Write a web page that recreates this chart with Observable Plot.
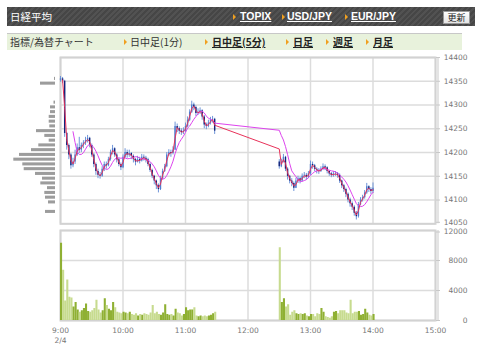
<!DOCTYPE html>
<html><head><meta charset="utf-8">
<script src="https://cdn.jsdelivr.net/npm/d3@7"></script>
<script src="https://cdn.jsdelivr.net/npm/@observablehq/plot@0.6"></script>
<style>
body{margin:0;background:#fff;width:480px;height:355px;overflow:hidden;position:relative;font-family:"Noto Sans CJK JP",sans-serif;}
#hdr{position:absolute;left:7px;top:7px;width:468px;height:19px;background:repeating-linear-gradient(135deg,#464646 0 2px,#525252 2px 4px);}
#hdr .ttl{position:absolute;left:3px;top:0;line-height:19px;font-size:10.5px;color:#fff;}
#hdr a{position:absolute;top:0;line-height:19px;font-family:"Liberation Sans",Arial,sans-serif;font-weight:bold;font-size:10.5px;color:#fff;text-decoration:underline;}
.tri{position:absolute;width:0;height:0;border-left:3px solid #f0a020;border-top:3px solid transparent;border-bottom:3px solid transparent;}
#hdr .tri{top:7px;}
#btn{position:absolute;left:436px;top:4px;width:25px;height:11px;background:linear-gradient(#fff,#e4e4e4);border:1px solid #999;font-size:9px;line-height:11px;text-align:center;color:#222;}
#nav{position:absolute;left:7px;top:33px;width:455px;height:16px;background:#e8f2dc;border-top:1px solid #c8c8c8;}
#nav span.t{position:absolute;top:0;line-height:16px;font-size:10px;color:#333;white-space:nowrap;}
#nav span.b{font-weight:bold;text-decoration:underline;color:#222;}
#nav .tri{top:5px;}
.pl{position:absolute;}
</style>
</head><body>
<div id="hdr">
  <span class="ttl">日経平均</span>
  <span class="tri" style="left:226px"></span><a style="left:233px">TOPIX</a>
  <span class="tri" style="left:275px"></span><a style="left:280px">USD/JPY</a>
  <span class="tri" style="left:338px"></span><a style="left:344px">EUR/JPY</a>
  <div id="btn">更新</div>
</div>
<div id="nav">
  <span class="t" style="left:3px">指標/為替チャート</span>
  <span class="tri" style="left:117px"></span><span class="t" style="left:123px">日中足(1分)</span>
  <span class="tri" style="left:198px"></span><span class="t b" style="left:205px">日中足(5分)</span>
  <span class="tri" style="left:279px"></span><span class="t b" style="left:286px">日足</span>
  <span class="tri" style="left:319px"></span><span class="t b" style="left:326px">週足</span>
  <span class="tri" style="left:359px"></span><span class="t b" style="left:366px">月足</span>
</div>
<div id="prof" class="pl" style="left:0;top:50px"></div>
<div id="price" class="pl" style="left:0;top:50px"></div>
<div id="vol" class="pl" style="left:0;top:225px"></div>
<script>
// ---- data ----
const amStart = 540;   // 9:00 in minutes
const pmStart = 750;   // 12:30
const barMinutes = 2;
const amOpen = 14352;
const pmOpen = 14180;
const amClose = [14355,14350,14240,14215,14195,14172,14180,14195,14210,14205,
14215,14220,14225,14230,14215,14195,14175,14160,14152,14150,
14165,14175,14172,14185,14200,14208,14195,14185,14175,14168,
14190,14200,14195,14198,14192,14185,14180,14185,14182,14190,
14188,14185,14175,14162,14150,14140,14130,14122,14145,14160,
14170,14195,14200,14198,14205,14255,14250,14245,14242,14245,
14255,14268,14285,14300,14295,14282,14285,14288,14275,14258,
14255,14262,14268,14270,14245];
const amHigh = [14360,14358,14352,14242,14218,14198,14188,14205,14218,14232,
14220,14225,14232,14236,14232,14218,14198,14178,14165,14158,
14170,14180,14180,14190,14205,14215,14210,14198,14188,14178,
14195,14208,14205,14205,14200,14195,14188,14192,14190,14196,
14195,14192,14188,14178,14165,14152,14142,14134,14150,14165,
14175,14200,14206,14205,14212,14264,14260,14254,14250,14252,
14262,14275,14290,14308,14304,14298,14292,14294,14290,14278,
14262,14268,14274,14276,14272];
const amLow = [14348,14345,14232,14205,14185,14165,14168,14175,14192,14198,
14200,14208,14215,14220,14210,14190,14168,14152,14145,14144,
14148,14160,14165,14170,14182,14195,14190,14178,14170,14162,
14166,14188,14188,14190,14185,14178,14172,14178,14176,14180,
14182,14178,14170,14158,14145,14132,14122,14115,14120,14142,
14158,14168,14192,14190,14195,14205,14242,14238,14236,14238,
14242,14252,14265,14282,14288,14276,14278,14280,14268,14250,
14248,14252,14258,14262,14238];
const amVol = [10300,6700,2600,5400,3100,3000,1800,2400,1400,1100,
1300,1600,2200,1200,1100,1300,1600,2700,1400,1000,
1300,2900,2000,1500,1300,2400,1700,1100,1000,900,
1100,1000,900,1100,800,700,900,600,800,700,
900,800,700,1000,2000,900,1100,800,700,1000,
2100,800,700,800,600,1500,1000,900,600,800,
1700,1300,1400,1400,1700,600,500,600,500,600,
500,600,700,900,1100];
const pmClose = [14170,14180,14190,14165,14150,14140,14135,14125,14140,14145,
14140,14150,14152,14148,14155,14175,14172,14165,14162,14160,
14165,14170,14168,14160,14155,14152,14155,14155,14152,14140,
14130,14122,14112,14100,14092,14085,14072,14065,14090,14100,
14105,14115,14128,14122,14118,14125];
const pmHigh = [14185,14186,14196,14192,14168,14152,14145,14138,14146,14150,
14148,14155,14158,14156,14160,14182,14180,14175,14168,14166,
14170,14176,14174,14170,14162,14158,14160,14160,14158,14155,
14142,14133,14125,14115,14104,14096,14088,14076,14095,14105,
14110,14120,14135,14130,14126,14136];
const pmLow = [14165,14168,14178,14160,14142,14134,14128,14118,14124,14135,
14134,14138,14145,14142,14145,14152,14165,14160,14155,14154,
14158,14162,14162,14155,14150,14147,14148,14150,14146,14135,
14124,14116,14105,14094,14085,14078,14066,14058,14062,14088,
14096,14102,14112,14116,14112,14114];
const pmVol = [9700,2400,2900,1800,2100,700,1100,1300,900,800,
900,800,900,600,500,800,800,500,900,800,
1600,1100,500,400,300,500,1100,1200,900,1300,
1300,1300,1000,900,2700,900,1100,1100,1200,700,
800,1500,1000,700,600,800];
// price-volume profile (bin lower edge, relative volume)
const profPrice = [14350,14340,14300,14290,14280,14270,14260,14250,14240,14230,14220,14210,14200,14190,14180,14170,14160,14150,14140,14130,14120,14110,14100,14090,14070];
const profVol   = [1,15,1.5,5,5,6.3,6.3,5.7,19,10.7,6.3,16.7,24,36,41.7,32.7,31.3,20,13,14.7,8,10.7,10,7,10];
const profBin = 10;
const priceTicks = [14100,14150,14200,14250,14300,14350,14400];
const priceBottom = [14050];
const volTicks = [0,4000,8000];
const volTop = [12000];
const timeTicks = [540,600,660,720,780,840,900];
const timeLabels = ["9:00","10:00","11:00","12:00","13:00","14:00","15:00"];
const dateLabel = "2/4";
const shortMA = 2, longMA = 7; // bars

// ---- build rows ----
function session(start, open0, close, high, low, vol) {
  return close.map((c, i) => ({
    t: start + i * barMinutes,
    open: i === 0 ? open0 : close[i - 1],
    close: c, high: high[i], low: low[i], vol: vol[i]
  }));
}
const rows = session(amStart, amOpen, amClose, amHigh, amLow, amVol)
  .concat(session(pmStart, pmOpen, pmClose, pmHigh, pmLow, pmVol));
const prof = profPrice.map((p, i) => ({p, v: profVol[i]}));

const font = {background: "transparent", fontFamily: "DejaVu Sans, sans-serif", fontSize: "7.5px", color: "#777", overflow: "visible"};
const gridC = "#dcdcdc";
const frameC = "#d2d2d2";
const fmt = d => String(d);
const axOpt = {anchor: "right", tickSize: 4, tickPadding: 28, textAnchor: "end", stroke: "#c8c8c8", fill: "#777", label: null, tickFormat: fmt};

const pricePlot = Plot.plot({
  width: 480, height: 180,
  marginLeft: 60, marginRight: 45, marginTop: 7, marginBottom: 6.7,
  style: font,
  x: {domain: [540, 900], axis: null},
  y: {domain: [14050, 14400]},
  marks: [
    Plot.ruleY(priceTicks.concat(priceBottom), {stroke: gridC, strokeWidth: 1.5}),
    Plot.ruleX(timeTicks, {stroke: gridC, strokeWidth: 1.5}),
    Plot.frame({stroke: frameC, strokeWidth: 2}),
    Plot.ruleX(timeTicks.slice(-1), {stroke: frameC, strokeWidth: 1.2, dx: 2.5}),
    Plot.axisY(priceTicks, axOpt),
    Plot.axisY(priceBottom, {...axOpt, dy: -1.5}),
    Plot.ruleX(rows, {x: "t", y1: "low", y2: "high", stroke: "#6f95d8", strokeWidth: 1}),
    Plot.ruleX(rows, {x: "t", y1: "open", y2: "close", stroke: d => d.close >= d.open ? "#4f7dd0" : "#13237a", strokeWidth: 1.4}),
    Plot.lineY(rows, Plot.windowY({k: longMA, anchor: "end", strict: true}, {x: "t", y: "close", stroke: "#dd44ee", strokeWidth: 1})),
    Plot.lineY(rows, Plot.windowY({k: shortMA, anchor: "end", strict: true}, {x: "t", y: "close", stroke: "#e8325a", strokeWidth: 1}))
  ]
});
document.getElementById("price").appendChild(pricePlot);

const profPlot = Plot.plot({
  width: 60, height: 180,
  marginLeft: 0, marginRight: 5, marginTop: 7, marginBottom: 6.7,
  style: font,
  x: {domain: [55, 0], axis: null},
  y: {domain: [14050, 14400], axis: null},
  marks: [
    Plot.rect(prof, {x1: () => 0, x2: "v", y1: "p", y2: d => d.p + profBin, insetTop: 0.85, insetBottom: 0.85, fill: "#9c9c9c"})
  ]
});
document.getElementById("prof").appendChild(profPlot);

const volPlot = Plot.plot({
  width: 480, height: 130,
  marginLeft: 60, marginRight: 45, marginTop: 5, marginBottom: 35,
  style: font,
  x: {domain: [540, 900]},
  y: {domain: [0, 12000]},
  marks: [
    Plot.ruleY(volTicks.concat(volTop), {stroke: gridC, strokeWidth: 1.5}),
    Plot.ruleX(timeTicks, {stroke: gridC, strokeWidth: 1.5}),
    Plot.frame({stroke: frameC, strokeWidth: 2}),
    Plot.ruleX(timeTicks.slice(-1), {stroke: frameC, strokeWidth: 1.2, dx: 2.5}),
    Plot.rectY(rows, {x1: "t", x2: d => d.t + barMinutes, y: "vol", fill: d => d.close >= d.open ? "#8fb033" : "#c7db8f"}),
    Plot.axisY(volTicks, axOpt),
    Plot.axisY(volTop, {...axOpt, dy: 1.5}),
    Plot.axisX(timeTicks, {tickSize: 0, tickPadding: 6, fill: "#777", label: null, lineHeight: 1.3,
      tickFormat: d => { const i = timeTicks.indexOf(d); return i === 0 ? timeLabels[i] + "\n" + dateLabel : timeLabels[i]; }})
  ]
});
document.getElementById("vol").appendChild(volPlot);
</script>
</body></html>
